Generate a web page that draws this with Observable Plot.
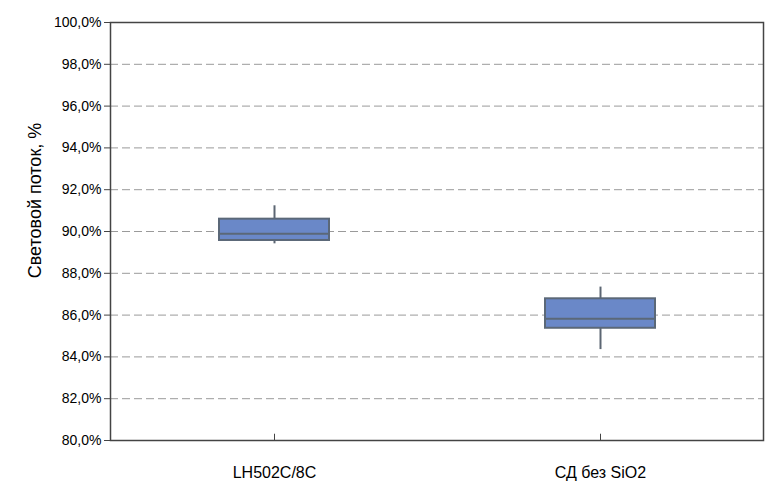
<!DOCTYPE html>
<html><head><meta charset="utf-8">
<script src="https://cdn.jsdelivr.net/npm/d3@7"></script>
<script src="https://cdn.jsdelivr.net/npm/@observablehq/plot@0.6"></script>
<style>body{margin:0;background:#fff;font-family:"Liberation Sans",Arial,sans-serif}</style>
</head><body><div id="chart"></div>
<script>
const categories = ["LH502C/8C", "СД без SiO2"];
const whiskerLow = [89.41, 84.35];
const q1 = [89.57, 85.37];
const median = [89.89, 85.82];
const q3 = [90.59, 86.78];
const whiskerHigh = [91.23, 87.34];
const yTicks = [80, 82, 84, 86, 88, 90, 92, 94, 96, 98, 100];
const yLabel = "Световой поток, %";

const data = categories.map((c, i) => ({cat: c, lo: whiskerLow[i], q1: q1[i], med: median[i], q3: q3[i], hi: whiskerHigh[i]}));
const fmt = d => d.toFixed(1).replace(".", ",") + "%";

const chart = Plot.plot({
  width: 772, height: 484,
  marginLeft: 110, marginRight: 9, marginTop: 22, marginBottom: 44,
  style: {fontFamily: "'Liberation Sans', Arial, sans-serif", color: "#000", background: "#fff"},
  x: {domain: categories, padding: 0},
  y: {domain: [80, 100]},
  marks: [
    Plot.ruleY(yTicks.filter(t => t > 80 && t < 100), {stroke: "#9a9a9a", strokeDasharray: "8,4", strokeWidth: 1}),
    Plot.axisY({ticks: yTicks, tickFormat: fmt, tickSize: 6, tickPadding: 3, fontSize: 14, label: null, stroke: "#444"}),
    Plot.axisX({tickSize: 0, tickPadding: 26, fontSize: 16, label: null}),
    Plot.ruleX(categories, {x: d => d, y1: 80, y2: 80.3, stroke: "#444"}),
    Plot.ruleX(data, {x: "cat", y1: "lo", y2: "hi", stroke: "#5c6673", strokeWidth: 2}),
    Plot.barY(data, {x: "cat", y1: "q1", y2: "q3", fill: "#6a88c8", stroke: "#5b6878", strokeWidth: 2, insetLeft: 108, insetRight: 108}),
    Plot.tickY(data, {x: "cat", y: "med", stroke: "#5b6878", strokeWidth: 2, insetLeft: 108, insetRight: 108}),
    Plot.frame({stroke: "#444", strokeWidth: 1.5}),
    Plot.text([yLabel], {text: d => d, frameAnchor: "left", textAnchor: "middle", rotate: -90, dx: -75, dy: -31, fontSize: 18, fill: "#000"})
  ]
});
document.getElementById("chart").appendChild(chart);
</script></body></html>
